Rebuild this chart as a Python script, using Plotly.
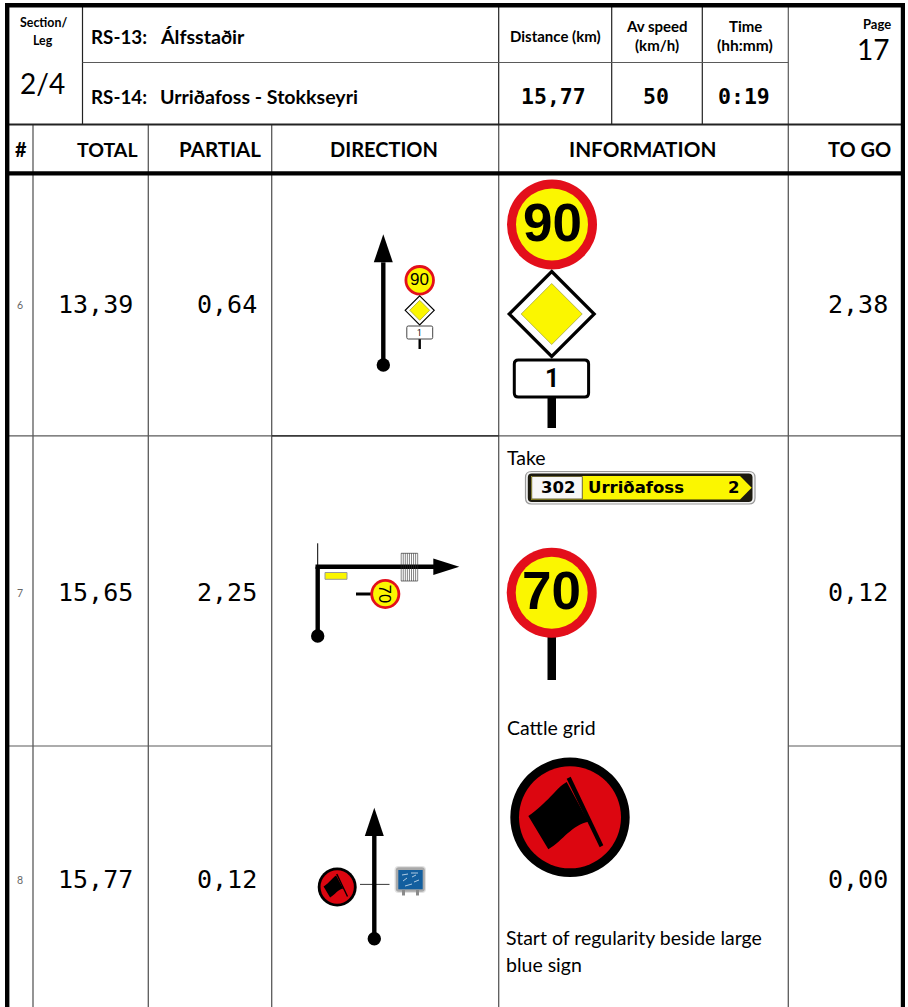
import plotly.graph_objects as go

# ---- data ----
row_numbers = ["6", "7", "8"]
total_km = ["13,39", "15,65", "15,77"]
partial_km = ["0,64", "2,25", "0,12"]
togo_km = ["2,38", "0,12", "0,00"]
column_heads = ["#", "TOTAL", "PARTIAL", "DIRECTION", "INFORMATION", "TO GO"]
stage_codes = ["RS-13:", "RS-14:"]
stage_names = ["Álfsstaðir", "Urriðafoss - Stokkseyri"]
section_leg = "2/4"
page_number = "17"
distance_km = "15,77"
average_speed = "50"
stage_time = "0:19"
info_notes = ["Take", "Cattle grid", "Start of regularity beside large", "blue sign"]

# ---- page geometry (pixels of the 908x1007 page) ----
W, H = 908, 1007
RED, YEL = "#e30f1b", "#fbf600"
GREY = "#5a5a5a"
SANS = "Lato"
MONO = "DejaVu Sans Mono"
SIGN = "Liberation Sans"
shapes, notes = [], []


def line(x0, y0, x1, y1, w=1.0, c="black"):
    shapes.append(dict(type="line", x0=x0, y0=y0, x1=x1, y1=y1, line=dict(color=c, width=w)))


def rect(x0, y0, x1, y1, fill, lc=None, lw=0):
    shapes.append(dict(type="rect", x0=x0, y0=y0, x1=x1, y1=y1, fillcolor=fill,
                       line=dict(color=lc or fill, width=lw)))


def circ(cx, cy, r, fill, lc=None, lw=0):
    shapes.append(dict(type="circle", x0=cx - r, y0=cy - r, x1=cx + r, y1=cy + r, fillcolor=fill,
                       line=dict(color=lc or fill, width=lw)))


def path(d, fill, lc=None, lw=0):
    shapes.append(dict(type="path", path=d, fillcolor=fill, line=dict(color=lc or fill, width=lw)))


def poly(pts, fill, lc=None, lw=0):
    path("M" + " L".join(f"{x:.2f},{y:.2f}" for x, y in pts) + " Z", fill, lc, lw)


def rrect(x0, y0, x1, y1, r, fill, lc=None, lw=0):
    d = (f"M{x0+r},{y0} L{x1-r},{y0} Q{x1},{y0} {x1},{y0+r} L{x1},{y1-r} Q{x1},{y1} {x1-r},{y1} "
         f"L{x0+r},{y1} Q{x0},{y1} {x0},{y1-r} L{x0},{y0+r} Q{x0},{y0} {x0+r},{y0} Z")
    path(d, fill, lc, lw)


def text(x, y, s, size, font=SANS, bold=False, anchor="center", color="black", angle=0):
    # annotations carry about 2px of inner padding: cancel it on anchored edges
    x = x - 2 if anchor == "left" else x + 2 if anchor == "right" else x
    notes.append(dict(x=x, y=y, text=f"<b>{s}</b>" if bold else s, showarrow=False, xanchor=anchor,
                      yanchor="middle", textangle=angle, xref="x", yref="y",
                      font=dict(family=font, size=size, color=color)))


def arrow_up(x, ydot, ybase, ytip, hw=9.5, r=6.7):
    line(x, ydot, x, ybase, 4.4)
    poly([(x, ytip), (x - hw, ybase), (x + hw, ybase)], "black")
    circ(x, ydot, r, "black")


def speed_sign(cx, cy, R, ring, s, size, bold=True, angle=0, dy=0):
    circ(cx, cy, R, RED)
    circ(cx, cy, R - ring, YEL)
    text(cx, cy + dy, s, size, SIGN, bold, angle=angle)


def priority(cx, cy, h, inner, lw):
    poly([(cx, cy - h), (cx + h, cy), (cx, cy + h), (cx - h, cy)], "white", "black", lw)
    poly([(cx, cy - inner), (cx + inner, cy), (cx, cy + inner), (cx - inner, cy)], YEL, "#a8a840", 0.8)


def flag(cx, cy, R, inner, k):
    circ(cx, cy, R, "black")
    circ(cx, cy, inner, "#dc0610")
    def p(x, y):
        return f"{cx + (x - 810) / 3 * k:.2f},{cy + (y - 172) / 3 * k:.2f}"
    path(f"M{p(800,66)} C{p(770,82)} {p(740,132)} {p(685,168)} L{p(745,268)} "
         f"C{p(790,240)} {p(815,195)} {p(865,185)} Z", "black")
    path(f"M{p(800,56)} L{p(812,50)} L{p(910,256)} L{p(899,262)} Z", "black")


# ---- grid ----
col_x = [33, 148.3, 271.7, 498.7, 788.3]
for x in col_x:
    line(x, 125, x, H, 1.3, GREY)
line(82.5, 7, 82.5, 124, 1.2, "#222")
for x in (498.7, 611.7, 702.3):
    line(x, 7, x, 124, 1.2, "#222")
line(788.3, 7, 788.3, 124, 1.2, GREY)
line(82.5, 62.5, 788.3, 62.5, 1.2, GREY)
line(5, 124.5, 903, 124.5, 2.2, "#222")
line(5, 435.8, 903, 435.8, 1.2, GREY)
line(271.7, 435.8, 498.7, 435.8, 1.2, "#222")
line(5, 746, 271.7, 746, 1.2, GREY)
line(788.3, 746, 903, 746, 1.2, GREY)
rect(5, 3, 905, 7.4, "black")
rect(5, 171.2, 905, 175.6, "black")
rect(5, 3, 9.4, H, "black")
rect(900.8, 3, 905, H, "black")

# ---- header text ----
text(43, 22, "Section/", 12.4, bold=True)
text(43, 40, "Leg", 12.4, bold=True)
text(42, 83, section_leg, 28)
for y, code, name in zip((36.5, 96), stage_codes, stage_names):
    text(91, y, code, 18.8, bold=True, anchor="left")
    text(160, y, name, 19.6, bold=True, anchor="left")
text(555, 36, "Distance (km)", 15, bold=True)
text(657, 26, "Av speed", 15, bold=True)
text(657, 45, "(km/h)", 15, bold=True)
text(745, 25.5, "Time", 15, bold=True)
text(745, 45, "(hh:mm)", 15.5, bold=True)
text(891, 24, "Page", 13, bold=True, anchor="right")
text(873, 49, page_number, 28)
text(553, 96, distance_km, 21.5, MONO, True)
text(656, 96, average_speed, 21.5, MONO, True)
text(744, 96, stage_time, 21.5, MONO, True)
head_pos = [(21, "center", 20), (137.5, "right", 19.5), (260.5, "right", 20.5),
            (384, "center", 20), (642, "center", 20.7), (891, "right", 20)]
for s, (x, a, size) in zip(column_heads, head_pos):
    text(x, 149, s, size, bold=True, anchor=a)

# ---- rows ----
for y, n, t, p_, g in zip((304.5, 592.5, 879.5), row_numbers, total_km, partial_km, togo_km):
    text(20, y + 0.5, n, 10.5, color="#666")
    text(132.5, y, t, 25, MONO, anchor="right")
    text(256.5, y, p_, 25, MONO, anchor="right")
    text(887.5, y, g, 25, MONO, anchor="right")

# ---- row 6 direction ----
arrow_up(383.3, 365, 262.3, 234.3)
line(419.7, 339, 419.7, 349, 2.4)
speed_sign(419.7, 280.3, 15.2, 2.8, "90", 17, bold=False, dy=-0.5)
priority(419.7, 310.3, 14.5, 10, 1.2)
rrect(406.8, 326, 432.7, 339, 1.5, "white", "#444", 1)
text(419.7, 332.8, "1", 8.5, "Roboto")

# ---- row 6 information ----
rect(547.5, 397, 556, 428, "black")
speed_sign(552, 224.5, 45, 9, "90", 53, dy=-2.5)
priority(551.7, 314, 42.5, 30.5, 3.2)
rrect(514.3, 360, 588.6, 397, 4, "white", "black", 3)
text(551.7, 378.5, "1", 25, "Roboto", True)

# ---- row 7 direction ----
line(317.7, 543.3, 317.7, 566, 1)
line(317.7, 636, 317.7, 566.7, 4.4)
line(315.5, 566.7, 435, 566.7, 4.4)
poly([(459.3, 566.7), (433.3, 558.5), (433.3, 575)], "black")
circ(317.7, 636, 6.7, "black")
rect(325, 572.5, 347, 579.3, YEL, "#999", 1)
for i in range(9):
    x = 401.2 + i * 2.06
    line(x, 553.3, x, 581, 0.6, "#333")
line(401, 553.3, 417.7, 553.3, 0.7, "#333")
line(401, 581, 417.7, 581, 0.7, "#333")
line(356, 594, 372, 594, 3)
speed_sign(385.3, 594, 15, 2.8, "70", 16.5, bold=False, angle=90)

# ---- row 7 information ----
text(507, 457.5, info_notes[0], 19.5, anchor="left")
rrect(525.5, 471.5, 755, 504, 6, "#f2f2f2", "#9a9a9a", 1.2)
rrect(527.8, 473.5, 752.5, 502, 4, "#1c1a10")
poly([(531, 476), (740, 476), (751.7, 487.7), (740, 499.4), (531, 499.4)], YEL)
rect(531.7, 476.5, 582.3, 499, "#f7f7f7", "#6b6436", 1)
text(557.7, 487.8, "302", 16.5, "DejaVu Sans", True)
text(588.3, 487.8, "Urriðafoss", 16.5, "DejaVu Sans", True, anchor="left")
text(733.5, 487.8, "2", 16.5, "DejaVu Sans", True)
rect(547.5, 637, 556, 680, "black")
speed_sign(551.7, 592.7, 45, 9, "70", 53, dy=-2.5)
text(507, 727, info_notes[1], 19.5, anchor="left")

# ---- row 8 direction ----
line(360, 884.4, 389.5, 884.4, 0.9, "#222")
arrow_up(374.3, 938.7, 836, 807.7)
flag(337.2, 887, 19.5, 16.7, 0.327)
rrect(394.5, 866, 426, 893, 4, "#e2e2e2")
rrect(395.8, 867.3, 424.8, 891.7, 3, "#a9a9a9")
rect(402, 890, 405, 895.5, "#8a8a8a")
rect(416, 890, 419, 895.5, "#8a8a8a")
rect(398.3, 870, 422.7, 889.3, "#135f9f")
for x0, y0, x1, y1 in [(402, 875, 408, 874), (411, 873, 418, 873), (403, 881, 407, 878),
                       (412, 877, 416, 875), (405, 886, 412, 884), (414, 882, 419, 880)]:
    line(x0, y0, x1, y1, 0.8, "#d7e6f2")

# ---- row 8 information ----
flag(570, 817.3, 59.7, 51, 1.0)
text(506, 937.5, info_notes[2], 19.5, anchor="left")
text(506, 964, info_notes[3], 19.5, anchor="left")

fig = go.Figure()
fig.update_layout(
    width=W, height=H, margin=dict(l=0, r=0, t=0, b=0),
    paper_bgcolor="white", plot_bgcolor="white", showlegend=False,
    xaxis=dict(range=[0, W], visible=False, fixedrange=True),
    yaxis=dict(range=[H, 0], visible=False, fixedrange=True),
    shapes=shapes, annotations=notes,
)
fig.write_html("out.html", config=dict(displayModeBar=False),
               post_script="document.body.style.margin='0';document.body.style.overflow='hidden';")
